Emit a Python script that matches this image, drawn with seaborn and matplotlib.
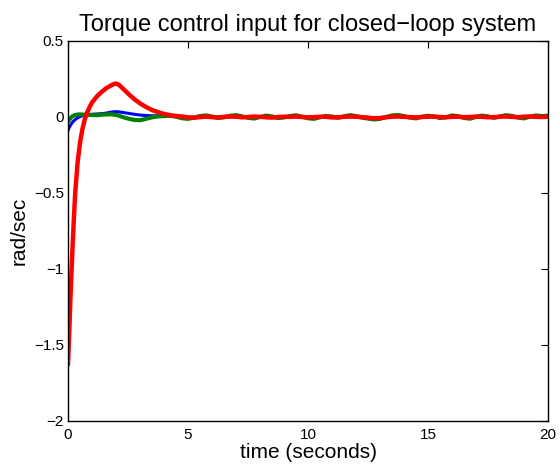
import matplotlib
matplotlib.use("Agg")
import matplotlib.pyplot as plt
import seaborn as sns

time = [0, 0.05, 0.1, 0.15, 0.2, 0.25, 0.3, 0.4, 0.5, 0.6, 0.7, 0.8, 0.9, 1.0,
        1.2, 1.4, 1.6, 1.8, 1.9, 2.0, 2.1, 2.2, 2.4, 2.6, 2.8, 3.0, 3.25, 3.5, 3.75, 4.0,
        4.25, 4.5, 4.75, 5.0, 5.25, 5.5, 5.75, 6.0, 6.25, 6.5, 6.75, 7.0,
        7.25, 7.5, 7.75, 8.0, 8.25, 8.5, 8.75, 9.0, 9.25, 9.5, 9.75, 10.0,
        10.25, 10.5, 10.75, 11.0, 11.25, 11.5, 11.75, 12.0, 12.25, 12.5, 12.75, 13.0,
        13.25, 13.5, 13.75, 14.0, 14.25, 14.5, 14.75, 15.0, 15.25, 15.5, 15.75, 16.0,
        16.25, 16.5, 16.75, 17.0, 17.25, 17.5, 17.75, 18.0, 18.25, 18.5, 18.75, 19.0,
        19.25, 19.5, 19.75, 20.0]

blue = [-0.09, -0.07, -0.055, -0.042, -0.032, -0.024, -0.017, -0.006, 0.002, 0.008, 0.012, 0.014, 0.016, 0.018,
        0.02, 0.022, 0.026, 0.032, 0.034, 0.035, 0.034, 0.032, 0.027, 0.022, 0.017, 0.013, 0.01, 0.008, 0.008, 0.007,
        0.006, 0.004, 0.0, -0.003, -0.002, 0.002, 0.003, 0.0, -0.002, 0.002, 0.004, 0.002, -0.001, 0.001, 0.002, 0.0,
        -0.001, -0.003, 0.001, 0.003, 0.002, 0.002, -0.001, -0.003, -0.002, 0.001, 0.003, -0.001, -0.002, 0.001, 0.003, 0.002,
        0.0, -0.003, -0.006, -0.005, -0.001, 0.002, 0.004, 0.002, 0.0, -0.002, 0.001, 0.003, 0.001, -0.001, 0.0, 0.002,
        0.003, 0.0, -0.002, 0.001, 0.002, 0.0, -0.002, 0.001, 0.004, 0.002, 0.0, -0.002, 0.001, 0.003, 0.002, 0.003]

green = [-0.03, -0.018, -0.008, 0.0, 0.006, 0.01, 0.013, 0.016, 0.017, 0.016, 0.015, 0.016, 0.014, 0.013,
         0.012, 0.015, 0.017, 0.018, 0.016, 0.013, 0.01, 0.004, -0.006, -0.014, -0.02, -0.021, -0.012, -0.002, 0.004, 0.006,
         0.008, 0.002, -0.008, -0.012, -0.004, 0.006, 0.01, 0.003, -0.006, -0.002, 0.008, 0.012, 0.004, -0.005, -0.01, 0.0,
         0.009, 0.004, -0.007, -0.003, 0.006, 0.011, 0.002, -0.008, -0.012, -0.002, 0.007, 0.003, -0.005, 0.004, 0.012, 0.006,
         -0.004, -0.01, -0.016, -0.012, 0.0, 0.01, 0.013, 0.006, -0.004, -0.009, 0.002, 0.008, 0.003, -0.007, -0.002, 0.01,
         0.005, -0.006, -0.011, 0.0, 0.009, 0.004, -0.005, 0.003, 0.012, 0.007, -0.004, -0.009, 0.002, 0.01, 0.006, 0.009]

red = [-1.63, -1.42, -1.2, -1.0, -0.82, -0.65, -0.5, -0.3, -0.17, -0.08, -0.015, 0.03, 0.065, 0.095,
       0.135, 0.165, 0.19, 0.208, 0.216, 0.22, 0.214, 0.2, 0.17, 0.14, 0.113, 0.09, 0.066, 0.046, 0.032, 0.02,
       0.012, 0.007, 0.003, -0.002, -0.005, -0.001, 0.002, -0.001, -0.003, 0.001, 0.003, 0.002, -0.002, 0.0, 0.003, 0.001,
       -0.002, -0.004, 0.0, 0.002, 0.001, 0.003, 0.0, -0.002, -0.001, 0.002, 0.001, -0.003, -0.002, 0.001, 0.003, 0.002,
       -0.001, -0.004, -0.008, -0.007, -0.002, 0.002, 0.003, 0.001, -0.001, -0.003, 0.0, 0.002, 0.003, 0.0, -0.002, 0.001,
       0.002, -0.001, 0.0, 0.003, 0.001, -0.002, -0.001, 0.002, 0.003, 0.001, -0.001, 0.002, 0.004, 0.001, 0.0, 0.002]

sns.set_style("white")
plt.rcParams["font.family"] = ["Liberation Sans", "DejaVu Sans"]
plt.rcParams["axes.unicode_minus"] = True
plt.rcParams["text.color"] = "black"
plt.rcParams["axes.labelcolor"] = "black"

fig = plt.figure(figsize=(5.6, 4.66), dpi=100)
ax = fig.add_axes([68 / 560, 45 / 466, 480 / 560, 380 / 466])

sns.lineplot(x=time, y=blue, ax=ax, color=(0, 0, 1), linewidth=2.2, estimator=None)
sns.lineplot(x=time, y=green, ax=ax, color=(0, 0.5, 0), linewidth=3.0, estimator=None)
sns.lineplot(x=time, y=red, ax=ax, color=(1, 0, 0), linewidth=3.2, estimator=None)

ax.set_xlim(0, 20)
ax.set_ylim(-2, 0.5)
ax.set_xticks([0, 5, 10, 15, 20])
ax.set_yticks([-2, -1.5, -1, -0.5, 0, 0.5])
ax.set_xticklabels(["0", "5", "10", "15", "20"])
ax.set_yticklabels(["\u22122", "\u22121.5", "\u22121", "\u22120.5", "0", "0.5"])
ax.tick_params(direction="in", length=5, width=0.8, top=True, right=True,
               labelsize=11, colors="black")
ax.tick_params(axis="x", pad=5)
ax.tick_params(axis="y", pad=3)
for s in ax.spines.values():
    s.set_visible(True)
    s.set_color("black")
    s.set_linewidth(1.0)

ax.set_title("Torque control input for closed\u2212loop system", fontsize=17, pad=7, color="black")
ax.set_xlabel("time (seconds)", fontsize=15, labelpad=1, color="black")
ax.set_ylabel("rad/sec", fontsize=15, labelpad=4, color="black")

fig.savefig("out.png", dpi=100)
